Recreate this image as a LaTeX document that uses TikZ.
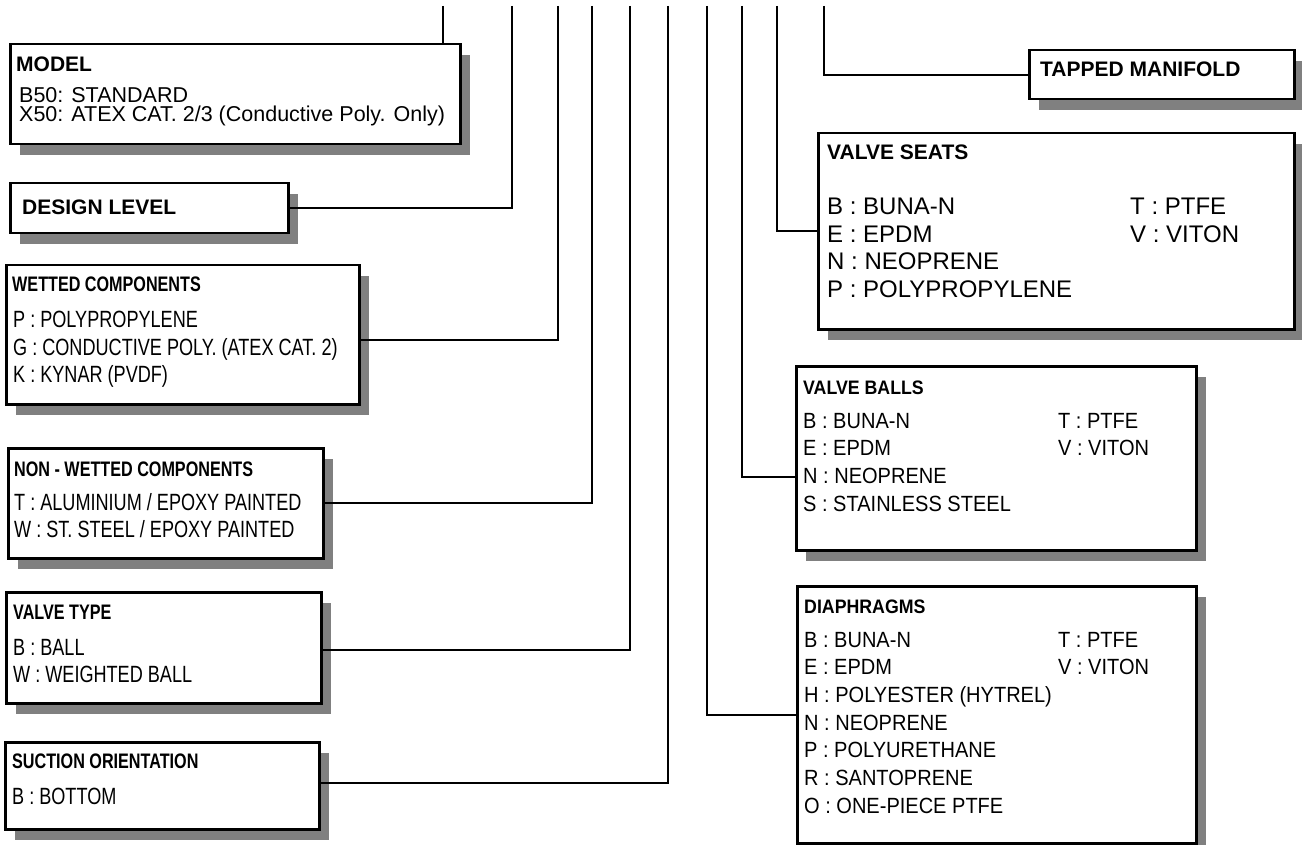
\documentclass[tikz,border=0pt]{standalone}
\usepackage{fontspec}
\setmainfont{Liberation Sans}
\newfontfamily\narrowsf[FakeStretch=0.77]{Liberation Sans}
\newfontfamily\semisf[FakeStretch=0.91]{Liberation Sans}
\usetikzlibrary{shadows,calc}
\tikzset{
  codebox/.style={draw, line width=2.5pt, fill=white, inner sep=0pt, anchor=north west,
    drop shadow={shadow xshift=10pt, shadow yshift=-11pt, fill=black!50, opacity=1}},
  link/.style={line width=2pt},
  head/.style={anchor=base west, inner sep=0pt, font=\bfseries\fontsize{21}{24}\selectfont},
  item/.style={anchor=base west, inner sep=0pt, font=\fontsize{21.5}{24}\selectfont},
  bigitem/.style={anchor=base west, inner sep=0pt, font=\fontsize{24}{27}\selectfont},
  narrowhead/.style={anchor=base west, inner sep=0pt, font=\narrowsf\bfseries\fontsize{21}{24}\selectfont},
  narrowitem/.style={anchor=base west, inner sep=0pt, font=\narrowsf\fontsize{23.5}{27}\selectfont},
  semihead/.style={anchor=base west, inner sep=0pt, font=\semisf\bfseries\fontsize{19.5}{24}\selectfont},
  semiitem/.style={anchor=base west, inner sep=0pt, font=\semisf\fontsize{22}{27}\selectfont}
}
\begin{document}
\begin{tikzpicture}[x=1pt,y=-1pt]
  \useasboundingbox (0,0) rectangle (1302,845);

  % Code boxes, left side
  \node[codebox, minimum width=450pt, minimum height=100pt] (model) at (9,43) {};
  \node[codebox, minimum width=278pt, minimum height=50pt] (design) at (9,182) {};
  \node[codebox, minimum width=353pt, minimum height=139pt] (wetted) at (5,264) {};
  \node[codebox, minimum width=315pt, minimum height=110pt] (nonwet) at (7,447) {};
  \node[codebox, minimum width=315pt, minimum height=111pt] (vtype) at (5,591) {};
  \node[codebox, minimum width=314pt, minimum height=87pt] (suction) at (4,741) {};

  % Code boxes, right side
  \node[codebox, minimum width=265pt, minimum height=49pt] (tapped) at (1028,49) {};
  \node[codebox, minimum width=476pt, minimum height=196pt] (seats) at (817,132) {};
  \node[codebox, minimum width=400pt, minimum height=184pt] (balls) at (795,365) {};
  \node[codebox, minimum width=399pt, minimum height=257pt] (diaph) at (796,585) {};

  % Box texts
  \node[head] (model-t) at (16,72) {MODEL};
  \foreach \txt [count=\i] in {{B50: STANDARD},{X50: ATEX CAT. 2/3 (Conductive Poly. Only)}}
    \node[item] (model-\i) at (19,{84+19*\i}) {\txt};

  \node[head] (design-t) at (22,215) {DESIGN LEVEL};

  \node[narrowhead] (wetted-t) at (12,292) {WETTED COMPONENTS};
  \foreach \txt [count=\i] in {{P : POLYPROPYLENE},{G : CONDUCTIVE POLY. (ATEX CAT. 2)},{K : KYNAR (PVDF)}}
    \node[narrowitem] (wetted-\i) at (13,{300+27.5*\i}) {\txt};

  \node[narrowhead] (nonwet-t) at (14,476) {NON - WETTED COMPONENTS};
  \foreach \txt [count=\i] in {{T : ALUMINIUM / EPOXY PAINTED},{W : ST. STEEL / EPOXY PAINTED}}
    \node[narrowitem] (nonwet-\i) at (14,{483+27*\i}) {\txt};

  \node[narrowhead] (vtype-t) at (13,619) {VALVE TYPE};
  \foreach \txt [count=\i] in {{B : BALL},{W : WEIGHTED BALL}}
    \node[narrowitem] (vtype-\i) at (13,{628+27*\i}) {\txt};

  \node[narrowhead] (suction-t) at (12,768) {SUCTION ORIENTATION};
  \node[narrowitem] (suction-1) at (12,804) {B : BOTTOM};

  \node[head] (tapped-t) at (1040,77) {TAPPED MANIFOLD};

  \node[head] (seats-t) at (827,160) {VALVE SEATS};
  \foreach \txt [count=\i] in {{B : BUNA-N},{E : EPDM},{N : NEOPRENE},{P : POLYPROPYLENE}}
    \node[bigitem] (seats-\i) at (827,{187.5+27.5*\i}) {\txt};
  \foreach \txt [count=\i] in {{T : PTFE},{V : VITON}}
    \node[bigitem] (seats-r\i) at (1130,{187.5+27.5*\i}) {\txt};

  \node[semihead] (balls-t) at (803,394) {VALVE BALLS};
  \foreach \txt [count=\i] in {{B : BUNA-N},{E : EPDM},{N : NEOPRENE},{S : STAINLESS STEEL}}
    \node[semiitem] (balls-\i) at (803,{400.3+27.7*\i}) {\txt};
  \foreach \txt [count=\i] in {{T : PTFE},{V : VITON}}
    \node[semiitem] (balls-r\i) at (1058,{400.3+27.7*\i}) {\txt};

  \node[semihead] (diaph-t) at (804,613) {DIAPHRAGMS};
  \foreach \txt [count=\i] in {{B : BUNA-N},{E : EPDM},{H : POLYESTER (HYTREL)},{N : NEOPRENE},{P : POLYURETHANE},{R : SANTOPRENE},{O : ONE-PIECE PTFE}}
    \node[semiitem] (diaph-\i) at (804,{619.3+27.7*\i}) {\txt};
  \foreach \txt [count=\i] in {{T : PTFE},{V : VITON}}
    \node[semiitem] (diaph-r\i) at (1058,{619.3+27.7*\i}) {\txt};

  % Code positions along the top
  \foreach \n/\x in {model/443, design/512, wetted/558, nonwet/592, vtype/630,
                     suction/668, diaph/707, balls/742, seats/777, tapped/824}
    \coordinate (top-\n) at (\x,6);

  % Leader lines
  \draw[link] (top-model) -- (top-model |- model.north);
  \draw[link] (top-design) |- (design.east);
  \draw[link] (top-wetted) |- ([yshift=-5.5pt]wetted.east);
  \draw[link] (top-nonwet) |- (nonwet.east);
  \draw[link] (top-vtype) |- ([yshift=-2.5pt]vtype.east);
  \draw[link] (top-suction) |- ([yshift=2.5pt]suction.east);
  \draw[link] (top-diaph) |- (diaph.west);
  \draw[link] (top-balls) |- ([yshift=-19pt]balls.west);
  \draw[link] (top-seats) |- (seats.west);
  \draw[link] (top-tapped) |- (tapped.west);
\end{tikzpicture}
\end{document}
